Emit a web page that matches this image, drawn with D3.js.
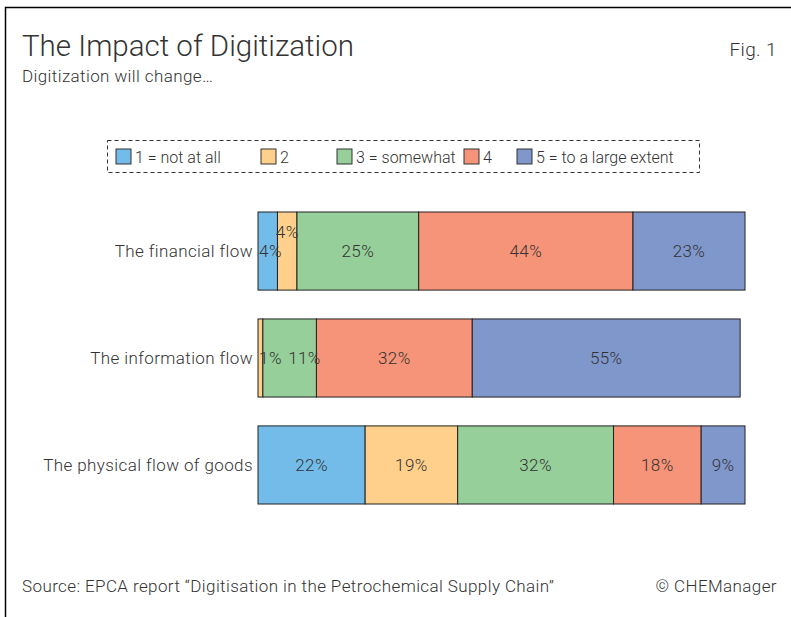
<!DOCTYPE html>
<html>
<head>
<meta charset="utf-8">
<title>The Impact of Digitization</title>
<script src="https://d3js.org/d3.v7.min.js"></script>
<style>
    body{
        margin:0;
        background:#fff;
    }
    svg text{
        font-family:"Helvetica Neue", Roboto, "Liberation Sans", Arial, sans-serif;
        font-weight:300;
        fill:#333;
        font-size:17px;
        letter-spacing:0.4px;
    }
    .legend text{
        font-size:16px;
        letter-spacing:0px;
    }
</style>
</head>
<body>
<div id="chart"></div>
<script>
    var categories = ["The financial flow", "The information flow", "The physical flow of goods"]
    var levels = ["1 = not at all", "2", "3 = somewhat", "4", "5 = to a large extent"]
    var colors = ["#73bce9", "#fed08b", "#96cf9a", "#f69479", "#8097cc"]
    // share of answers per level, in percent
    var financial = [4, 4, 25, 44, 23]
    var information = [0, 1, 11, 32, 55]
    var physical = [22, 19, 32, 18, 9]
    var series = [financial, information, physical]

    var w = 791
    var h = 617

    var svg = d3.select("#chart").append("svg")
        .attr("width", w)
        .attr("height", h)

    // frame: top and left edge only
    svg.append("path")
        .attr("d", "M5.5," + h + "V7.5H" + w)
        .attr("fill", "none")
        .attr("stroke", "#000")
        .attr("stroke-width", 1.5)

    svg.append("text").text("The Impact of Digitization")
        .attr("x", 22).attr("y", 56)
        .style("font-size", "29.5px")
        .style("letter-spacing", "0px")
    svg.append("text").text("Digitization will change…")
        .attr("x", 22).attr("y", 82)
    svg.append("text").text("Fig. 1")
        .attr("x", 777).attr("y", 56)
        .attr("text-anchor", "end")
        .style("font-size", "19px")

    svg.append("text").text("Source: EPCA report \u201cDigitisation in the Petrochemical Supply Chain\u201d")
        .attr("x", 22).attr("y", 592)
    svg.append("text").text("\u00a9 CHEManager")
        .attr("x", 777).attr("y", 592)
        .attr("text-anchor", "end")

    // legend
    var legend = svg.append("g").attr("class", "legend")
    legend.append("rect")
        .attr("x", 107.5).attr("y", 140.5)
        .attr("width", 592).attr("height", 32)
        .attr("fill", "none")
        .attr("stroke", "#333")
        .attr("stroke-dasharray", "4,3")
    var legendX = [116, 261, 337, 464, 517]
    var items = legend.selectAll(".item")
        .data(levels)
        .enter()
        .append("g")
        .attr("class", "item")
        .attr("transform", function(d, i){ return "translate(" + legendX[i] + ",149)" })
    items.append("rect")
        .attr("width", 15).attr("height", 15)
        .attr("fill", function(d, i){ return colors[i] })
        .attr("stroke", "#333")
    items.append("text")
        .text(function(d){ return d })
        .attr("x", 19).attr("y", 14)

    var xScale = d3.scaleLinear().domain([0, 100]).range([258, 745])
    var yScale = d3.scaleBand().domain(categories).range([212, 504]).paddingInner(0.27)

    var rows = svg.selectAll(".row")
        .data(series)
        .enter()
        .append("g")
        .attr("class", "row")
        .attr("transform", function(d, i){ return "translate(0," + yScale(categories[i]) + ")" })

    rows.append("text")
        .text(function(d, i){ return categories[i] })
        .attr("x", 253)
        .attr("y", yScale.bandwidth() / 2)
        .attr("dy", "0.35em")
        .attr("text-anchor", "end")

    rows.each(function(vals){
        var g = d3.select(this)
        var start = 0
        var segs = vals.map(function(v){
            var s = {v: v, x0: start, x1: start + v}
            start += v
            return s
        })
        g.selectAll("rect")
            .data(segs)
            .enter()
            .append("rect")
            .attr("x", function(d){ return xScale(d.x0) })
            .attr("width", function(d){ return xScale(d.x1) - xScale(d.x0) })
            .attr("y", 0)
            .attr("height", yScale.bandwidth())
            .attr("fill", function(d, i){ return colors[i] })
            .attr("stroke", "#222")
            .attr("stroke-width", 1)

        // labels: keep inside the bar start, push right on overlap,
        // lift up when the segment is too narrow to hold it
        var lastRight = -Infinity
        var labelW = function(v){ return String(v).length * 10 + 15 }
        segs.forEach(function(d){
            if (d.v === 0) return
            var lw = labelW(d.v)
            var cx = (xScale(d.x0) + xScale(d.x1)) / 2
            var cy = yScale.bandwidth() / 2
            if (cx - lw / 2 < xScale(0)) cx = xScale(0) + lw / 2
            if (cx - lw / 2 < lastRight) {
                if (xScale(d.x1) - xScale(d.x0) < lw) {
                    cy -= 19
                } else {
                    cx = lastRight + 4 + lw / 2
                    lastRight = cx + lw / 2
                }
            } else {
                lastRight = cx + lw / 2
            }
            g.append("text")
                .text(d.v + "%")
                .attr("x", cx)
                .attr("y", cy)
                .attr("dy", "0.35em")
                .attr("text-anchor", "middle")
        })
    })
</script>
</body>
</html>
